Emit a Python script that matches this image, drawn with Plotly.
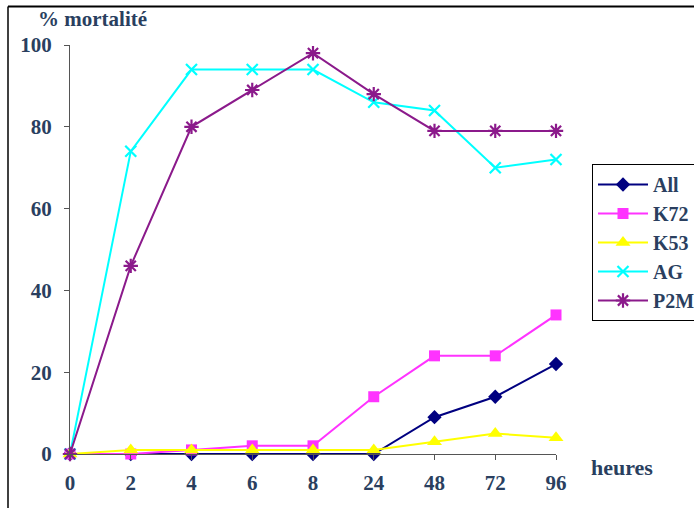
import plotly.graph_objects as go

# Time points (hours) and mortality (%) per strain
heures = ["0", "2", "4", "6", "8", "24", "48", "72", "96"]
all_vals = [0, 0, 0, 0, 0, 0, 9, 14, 22]
k72_vals = [0, 0, 1, 2, 2, 14, 24, 24, 34]
k53_vals = [0, 1, 1, 1, 1, 1, 3, 5, 4]
ag_vals = [0, 74, 94, 94, 94, 86, 84, 70, 72]
p2m_vals = [0, 46, 80, 89, 98, 88, 79, 79, 79]
y_ticks = [0, 20, 40, 60, 80, 100]

FONT = "Liberation Serif"
W, H = 694, 508
L, R, T, B = 70, 138, 45, 54

series = [
    ("All", all_vals, "#000080", dict(symbol="diamond", size=11)),
    ("K72", k72_vals, "#FF33FF", dict(symbol="square", size=11)),
    ("K53", k53_vals, "#FFFF00", dict(symbol="triangle-up", size=13)),
    ("AG", ag_vals, "#00FFFF", dict(symbol="x-thin", size=11, line=dict(width=2.2, color="#00FFFF"))),
    ("P2M", p2m_vals, "#8B1A8B", dict(symbol="asterisk", size=12, line=dict(width=2.2, color="#8B1A8B"))),
]

xi = list(range(len(heures)))
fig = go.Figure()
for name, vals, color, marker in series:
    marker = dict(marker, color=color)
    fig.add_trace(go.Scatter(
        x=xi, y=vals, name=f"<b>{name}</b>", mode="lines+markers",
        line=dict(color=color, width=2), marker=marker, cliponaxis=False,
    ))

pw = W - L - R
ph = H - T - B

def px_x(p):
    return (p - L) / pw

def px_y(p):
    return (H - B - p) / ph

fig.update_layout(
    width=W, height=H,
    margin=dict(l=L, r=R, t=T, b=B, pad=0, autoexpand=False),
    paper_bgcolor="white", plot_bgcolor="white",
    font=dict(family=FONT),
    showlegend=True,
    legend=dict(
        x=px_x(592), y=px_y(164), xanchor="left", yanchor="top",
        bgcolor="white", bordercolor="#000000", borderwidth=1,
        font=dict(family=FONT, size=20),
        itemwidth=50, tracegroupgap=0,
    ),
    xaxis=dict(
        range=[0, 8], tickmode="array", tickvals=xi,
        ticktext=[f"<b>{t}</b>" for t in heures],
        showgrid=False, zeroline=False, showline=True, linecolor="#555555", linewidth=1,
        ticks="outside", ticklen=5, tickcolor="#555555",
        tickfont=dict(family=FONT, size=21),
        ticklabelstandoff=5,
    ),
    yaxis=dict(
        range=[0, 100], tickmode="array", tickvals=y_ticks,
        ticktext=[f"<b>{v}</b>" for v in y_ticks],
        showgrid=False, zeroline=False, showline=True, linecolor="#555555", linewidth=1,
        ticks="outside", ticklen=5, tickcolor="#555555",
        tickfont=dict(family=FONT, size=21),
        ticklabelstandoff=8,
    ),
    shapes=[
        dict(type="line", xref="paper", yref="paper", x0=px_x(8), x1=px_x(W + 5),
             y0=px_y(6.5), y1=px_y(6.5), line=dict(color="#000000", width=2)),
        dict(type="line", xref="paper", yref="paper", x0=px_x(8), x1=px_x(8),
             y0=px_y(6.5), y1=px_y(H + 5), line=dict(color="#000000", width=1.5)),
    ],
    annotations=[
        dict(text="<b>% mortalité</b>", xref="paper", yref="paper",
             x=px_x(36), y=px_y(19), xanchor="left", yanchor="middle",
             showarrow=False, font=dict(family=FONT, size=21)),
        dict(text="<b>heures</b>", xref="paper", yref="paper",
             x=px_x(589), y=px_y(467), xanchor="left", yanchor="middle",
             showarrow=False, font=dict(family=FONT, size=22)),
    ],
)

fig.write_html("out.html")
